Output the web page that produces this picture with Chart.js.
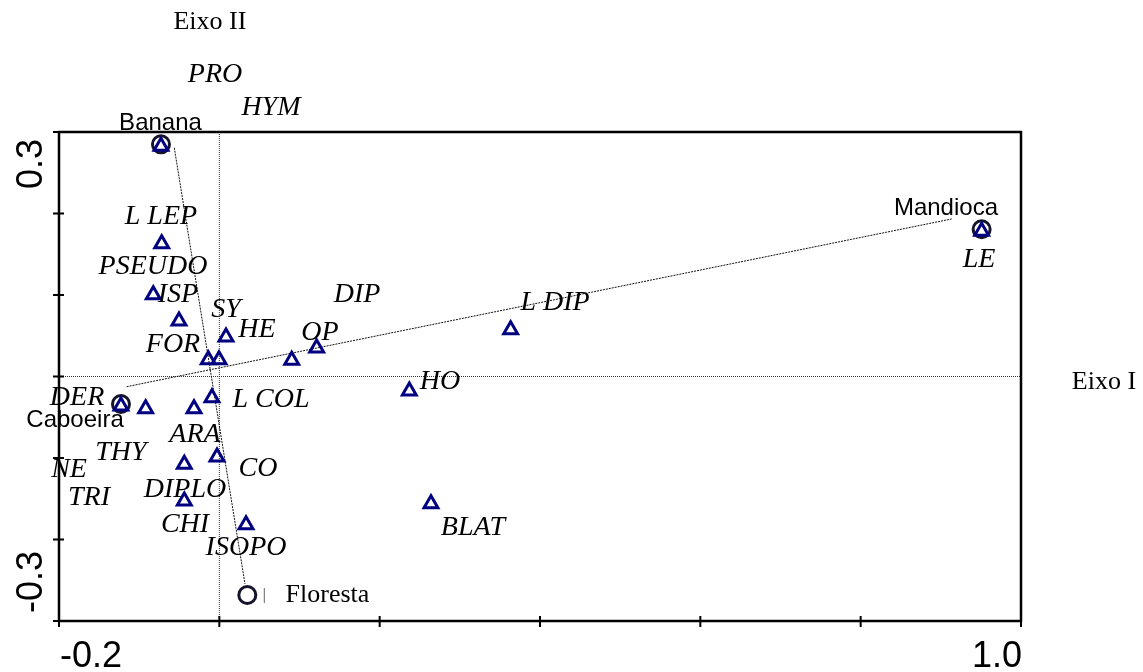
<!DOCTYPE html>
<html><head><meta charset="utf-8">
<script src="https://cdn.jsdelivr.net/npm/chart.js@4/dist/chart.umd.min.js"></script>
<style>html,body{margin:0;padding:0;background:#fff}#wrap{width:1143px;height:672px}</style>
</head><body><div id="wrap"><canvas id="c" width="1143" height="672"></canvas></div>
<script>
// species scores (triangles)
const speciesX = [-0.0728,-0.0719,-0.0824,-0.0503,0.0083,-0.0138,-0.0004,0.0903,0.1214,0.3634,0.2370,-0.0092,-0.0316,-0.0919,-0.1227,-0.0029,-0.0437,-0.0437,0.0333,0.2640,0.9509];
const speciesY = [0.2825,0.1629,0.1004,0.0681,0.0485,0.0206,0.0206,0.0199,0.0350,0.0574,-0.0178,-0.0260,-0.0395,-0.0395,-0.0362,-0.0988,-0.1077,-0.1528,-0.1818,-0.1561,0.1782];
// species names and where they are written
const speciesLabels = ['PRO','HYM','L LEP','PSEUDO','ISP','SY','HE','FOR','OP','DIP','L DIP','HO','L COL','BLAT','LE','DER','ARA','THY','NE','CO','TRI','DIPLO','CHI','ISOPO'];
const speciesLabelX = [-0.0054,0.0644,-0.0728,-0.0827,-0.0516,0.0083,0.0470,-0.0578,0.1256,0.1717,0.4187,0.2752,0.0644,0.3164,0.9476,-0.1775,-0.0304,-0.1227,-0.1875,0.0482,-0.1626,-0.0428,-0.0428,0.0333];
const speciesLabelY = [0.3699,0.3294,0.1957,0.1344,0.1000,0.0816,0.0571,0.0387,0.0534,0.1000,0.0902,-0.0067,-0.0288,-0.1859,0.1429,-0.0264,-0.0718,-0.0939,-0.1147,-0.1135,-0.1491,-0.1393,-0.1822,-0.2104];
// sites (circles)
const siteNames = ['Banana','Caboeira','Floresta','Mandioca'];
const siteX = [-0.0728,-0.1227,0.0349,0.9509];
const siteY = [0.2849,-0.0337,-0.2681,0.1807];
const siteLabelX = [-0.0734,-0.1800,0.1349,0.9064];
const siteLabelY = [0.3110,-0.0534,-0.2681,0.2067];
// connecting lines
const envX1 = [-0.0562,-0.1156];
const envY1 = [0.2807,-0.0125];
const envX2 = [0.0320,0.9135];
const envY2 = [-0.2546,0.1933];
// axes
const xTicks = [-0.2,0,0.2,0.4,0.6,0.8,1.0];
const yTicks = [-0.3,-0.2,-0.1,0,0.1,0.2,0.3];
const xTickLabels = ['-0.2','1.0'];
const xTickLabelValues = [-0.2,1.0];
const yTickLabels = ['0.3','-0.3'];
const yTickLabelValues = [0.3,-0.3];
const axisTitles = ['Eixo I','Eixo II'];
const axisTitleX = [1.1035,-0.0117];
const axisTitleY = [-0.0067,0.4350];

const SERIF = '"Liberation Serif","Times New Roman",serif';
const SANS = '"Liberation Sans",Arial,sans-serif';

const speciesPts = speciesX.map((x,i)=>({x, y: speciesY[i]}));
const sitePts = siteX.map((x,i)=>({x, y: siteY[i]}));
const envSets = envX1.map((x,i)=>({
  type:'line', data:[{x, y:envY1[i]},{x:envX2[i], y:envY2[i]}],
  borderColor:'#111', borderWidth:1, pointRadius:0, borderDash:[2,1], clip:false
}));

const decor = {
  id:'decor',
  afterDatasetsDraw(chart){
    const ctx = chart.ctx, xs = chart.scales.x, ys = chart.scales.y, a = chart.chartArea;
    ctx.save();
    ctx.fillStyle = '#000';
    ctx.textAlign = 'center'; ctx.textBaseline = 'middle';
    ctx.font = 'italic 28px ' + SERIF;
    speciesLabels.forEach((t,i)=>ctx.fillText(t, xs.getPixelForValue(speciesLabelX[i]), ys.getPixelForValue(speciesLabelY[i])));
    siteNames.forEach((t,i)=>{
      ctx.font = (t==='Floresta') ? '26px ' + SERIF : '24px ' + SANS;
      ctx.fillText(t, xs.getPixelForValue(siteLabelX[i]), ys.getPixelForValue(siteLabelY[i]));
    });
    const fi = siteNames.indexOf('Floresta');
    const bx = xs.getPixelForValue(siteX[fi]) + 17, by = ys.getPixelForValue(siteY[fi]);
    ctx.strokeStyle = '#666'; ctx.lineWidth = 1;
    ctx.beginPath(); ctx.moveTo(bx, by-7); ctx.lineTo(bx, by+8); ctx.stroke();
    ctx.font = '26px ' + SERIF;
    axisTitles.forEach((t,i)=>ctx.fillText(t, xs.getPixelForValue(axisTitleX[i]), ys.getPixelForValue(axisTitleY[i])));
    ctx.strokeStyle = '#000'; ctx.lineWidth = 2.5;
    ctx.strokeRect(a.left, a.top, a.right-a.left, a.bottom-a.top);
    ctx.lineWidth = 2;
    ctx.beginPath();
    xTicks.forEach(v=>{const px = xs.getPixelForValue(v); ctx.moveTo(px, a.bottom-5); ctx.lineTo(px, a.bottom+6);});
    yTicks.forEach(v=>{const py = ys.getPixelForValue(v); ctx.moveTo(a.left-6, py); ctx.lineTo(a.left+5, py);});
    ctx.stroke();
    ctx.font = '36px ' + SANS;
    ctx.textBaseline = 'alphabetic';
    xTickLabels.forEach((t,i)=>{
      const px = xs.getPixelForValue(xTickLabelValues[i]);
      ctx.textAlign = i===0 ? 'left' : 'right';
      ctx.fillText(t, px+1, a.bottom+46);
    });
    yTickLabels.forEach((t,i)=>{
      const py = ys.getPixelForValue(yTickLabelValues[i]);
      ctx.save();
      ctx.translate(a.left-17, i===0 ? py+7 : py-8);
      ctx.rotate(-Math.PI/2);
      ctx.textAlign = i===0 ? 'right' : 'left';
      ctx.fillText(t, 0, 0);
      ctx.restore();
    });
    ctx.restore();
  }
};

new Chart(document.getElementById('c'), {
  type:'scatter',
  data:{datasets:[
    {label:'Espécies', data:speciesPts, pointStyle:'triangle', pointRadius:8, pointHoverRadius:8,
     borderColor:'#000080', backgroundColor:'rgba(0,0,0,0)', borderWidth:3, clip:false},
    {label:'Áreas', data:sitePts, pointStyle:'circle', pointRadius:8.5, pointHoverRadius:8.5,
     borderColor:'#14142a', backgroundColor:'rgba(0,0,0,0)', borderWidth:3, clip:false},
    ...envSets,
    {type:'line', data:[{x:xTicks[0],y:0},{x:xTicks[xTicks.length-1],y:0}], borderColor:'#333', borderWidth:1, borderDash:[1,1], pointRadius:0},
    {type:'line', data:[{x:0,y:yTicks[0]},{x:0,y:yTicks[yTicks.length-1]}], borderColor:'#333', borderWidth:1, borderDash:[1,1], pointRadius:0}
  ]},
  options:{
    responsive:false, animation:false,
    layout:{padding:{left:59, right:122, top:132, bottom:51}},
    plugins:{legend:{display:false}, tooltip:{enabled:false}},
    scales:{
      x:{type:'linear', min:-0.2, max:1.0, display:false},
      y:{type:'linear', min:-0.3, max:0.3, display:false}
    }
  },
  plugins:[decor]
});
</script></body></html>
